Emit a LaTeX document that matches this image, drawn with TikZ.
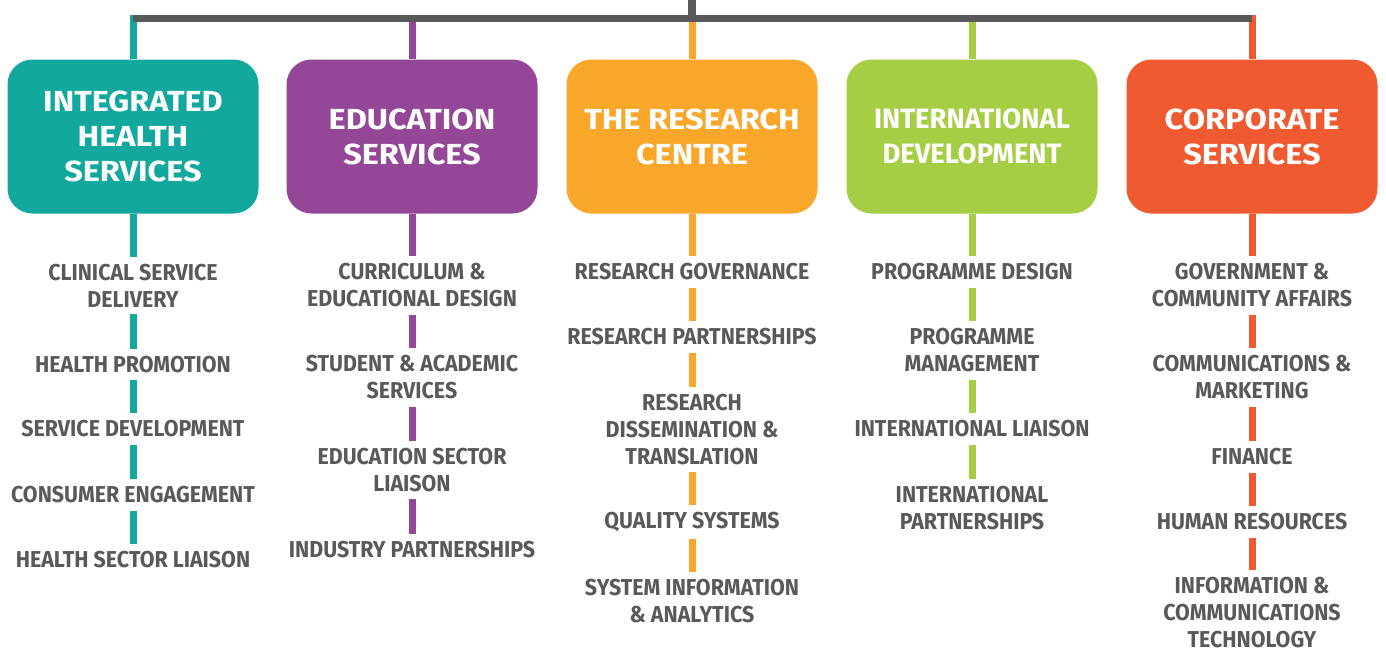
\documentclass[tikz,border=0pt]{standalone}
\usepackage{fontspec}
\setmainfont{Fira Sans}
\newfontfamily\headfam{Fira Sans}[FakeStretch=1.12]
\newfontfamily\headcondfam{Fira Sans}[FakeStretch=0.98]
\newfontfamily\itemfam{Fira Sans}[FakeStretch=0.93]
\definecolor{dgray}{HTML}{58595B}
\definecolor{cteal}{HTML}{13A89E}
\definecolor{cpurple}{HTML}{944697}
\definecolor{corange}{HTML}{F9A72B}
\definecolor{cgreen}{HTML}{A6CE45}
\definecolor{cred}{HTML}{F05A30}
\begin{document}
\begin{tikzpicture}[x=1pt,y=-1pt,
  headbox/.style={rounded corners=25pt, minimum width=251pt, minimum height=154pt,
    text=white, align=center, inner sep=0pt,
    font=\headfam\bfseries\fontsize{29}{35}\selectfont},
  itembox/.style={text=dgray, align=center, inner xsep=0pt, inner ysep=7pt,
    font=\itemfam\bfseries\fontsize{23}{27}\selectfont},
  link/.style={line width=7pt}]
\useasboundingbox (0,0) rectangle (1386,651);
% top structure
\coordinate (top) at (692,0);
\coordinate (bl) at (133,18.3);
\coordinate (br) at (1252,18.3);
\coordinate (bm) at (692,18.3);
\coordinate (d1) at (133,15);
\coordinate (d2) at (412,15);
\coordinate (d3) at (692,15);
\coordinate (d4) at (972,15);
\coordinate (d5) at (1252,15);
% header boxes
\node[headbox, fill=cteal] (h1) at (133,136.5) {INTEGRATED\\HEALTH\\SERVICES};
\node[headbox, fill=cpurple] (h2) at (412,136.5) {EDUCATION\\SERVICES};
\node[headbox, fill=corange] (h3) at (692,136.5) {THE RESEARCH\\CENTRE};
\node[headbox, fill=cgreen, font=\headcondfam\bfseries\fontsize{28}{35}\selectfont] (h4) at (972,136.5) {INTERNATIONAL\\DEVELOPMENT};
\node[headbox, fill=cred] (h5) at (1252,136.5) {CORPORATE\\SERVICES};
% drops
\draw[link, cteal] (d1) -- (h1.north);
\draw[link, cpurple] (d2) -- (h2.north);
\draw[link, corange] (d3) -- (h3.north);
\draw[link, cgreen] (d4) -- (h4.north);
\draw[link, cred] (d5) -- (h5.north);
\draw[line width=7.5pt, dgray] (bl) -- (br);
\draw[line width=8pt, dgray] (top) -- (bm);
% column 1
\node[itembox] (i11) at (133,285.5) {CLINICAL SERVICE\\DELIVERY};
\node[itembox] (i12) at (133,364.5) {HEALTH PROMOTION};
\node[itembox] (i13) at (133,429) {SERVICE DEVELOPMENT};
\node[itembox] (i14) at (133,495) {CONSUMER ENGAGEMENT};
\node[itembox] (i15) at (133,560) {HEALTH SECTOR LIAISON};
% column 2
\node[itembox] (i21) at (412,285.5) {CURRICULUM \&\\EDUCATIONAL DESIGN};
\node[itembox] (i22) at (412,377.5) {STUDENT \& ACADEMIC\\SERVICES};
\node[itembox] (i23) at (412,470) {EDUCATION SECTOR\\LIAISON};
\node[itembox] (i24) at (412,550) {INDUSTRY PARTNERSHIPS};
% column 3
\node[itembox] (i31) at (692,272) {RESEARCH GOVERNANCE};
\node[itembox] (i32) at (692,337) {RESEARCH PARTNERSHIPS};
\node[itembox] (i33) at (692,429.5) {RESEARCH\\DISSEMINATION \&\\TRANSLATION};
\node[itembox] (i34) at (692,522) {QUALITY SYSTEMS};
\node[itembox] (i35) at (692,601) {SYSTEM INFORMATION\\\& ANALYTICS};
% column 4
\node[itembox] (i41) at (972,272) {PROGRAMME DESIGN};
\node[itembox] (i42) at (972,350.5) {PROGRAMME\\MANAGEMENT};
\node[itembox] (i43) at (972,429) {INTERNATIONAL LIAISON};
\node[itembox] (i44) at (972,508.5) {INTERNATIONAL\\PARTNERSHIPS};
% column 5
\node[itembox] (i51) at (1252,285.5) {GOVERNMENT \&\\COMMUNITY AFFAIRS};
\node[itembox] (i52) at (1252,377.5) {COMMUNICATIONS \&\\MARKETING};
\node[itembox] (i53) at (1252,457) {FINANCE};
\node[itembox] (i54) at (1252,522) {HUMAN RESOURCES};
\node[itembox] (i55) at (1252,613) {INFORMATION \&\\COMMUNICATIONS\\TECHNOLOGY};
% connectors
\foreach \a/\b in {h1/i11,i11/i12,i12/i13,i13/i14,i14/i15}
  \draw[link, cteal] (\a.south) -- (\b.north);
\foreach \a/\b in {h2/i21,i21/i22,i22/i23,i23/i24}
  \draw[link, cpurple] (\a.south) -- (\b.north);
\foreach \a/\b in {h3/i31,i31/i32,i32/i33,i33/i34,i34/i35}
  \draw[link, corange] (\a.south) -- (\b.north);
\foreach \a/\b in {h4/i41,i41/i42,i42/i43,i43/i44}
  \draw[link, cgreen] (\a.south) -- (\b.north);
\foreach \a/\b in {h5/i51,i51/i52,i52/i53,i53/i54,i54/i55}
  \draw[link, cred] (\a.south) -- (\b.north);
\end{tikzpicture}
\end{document}
